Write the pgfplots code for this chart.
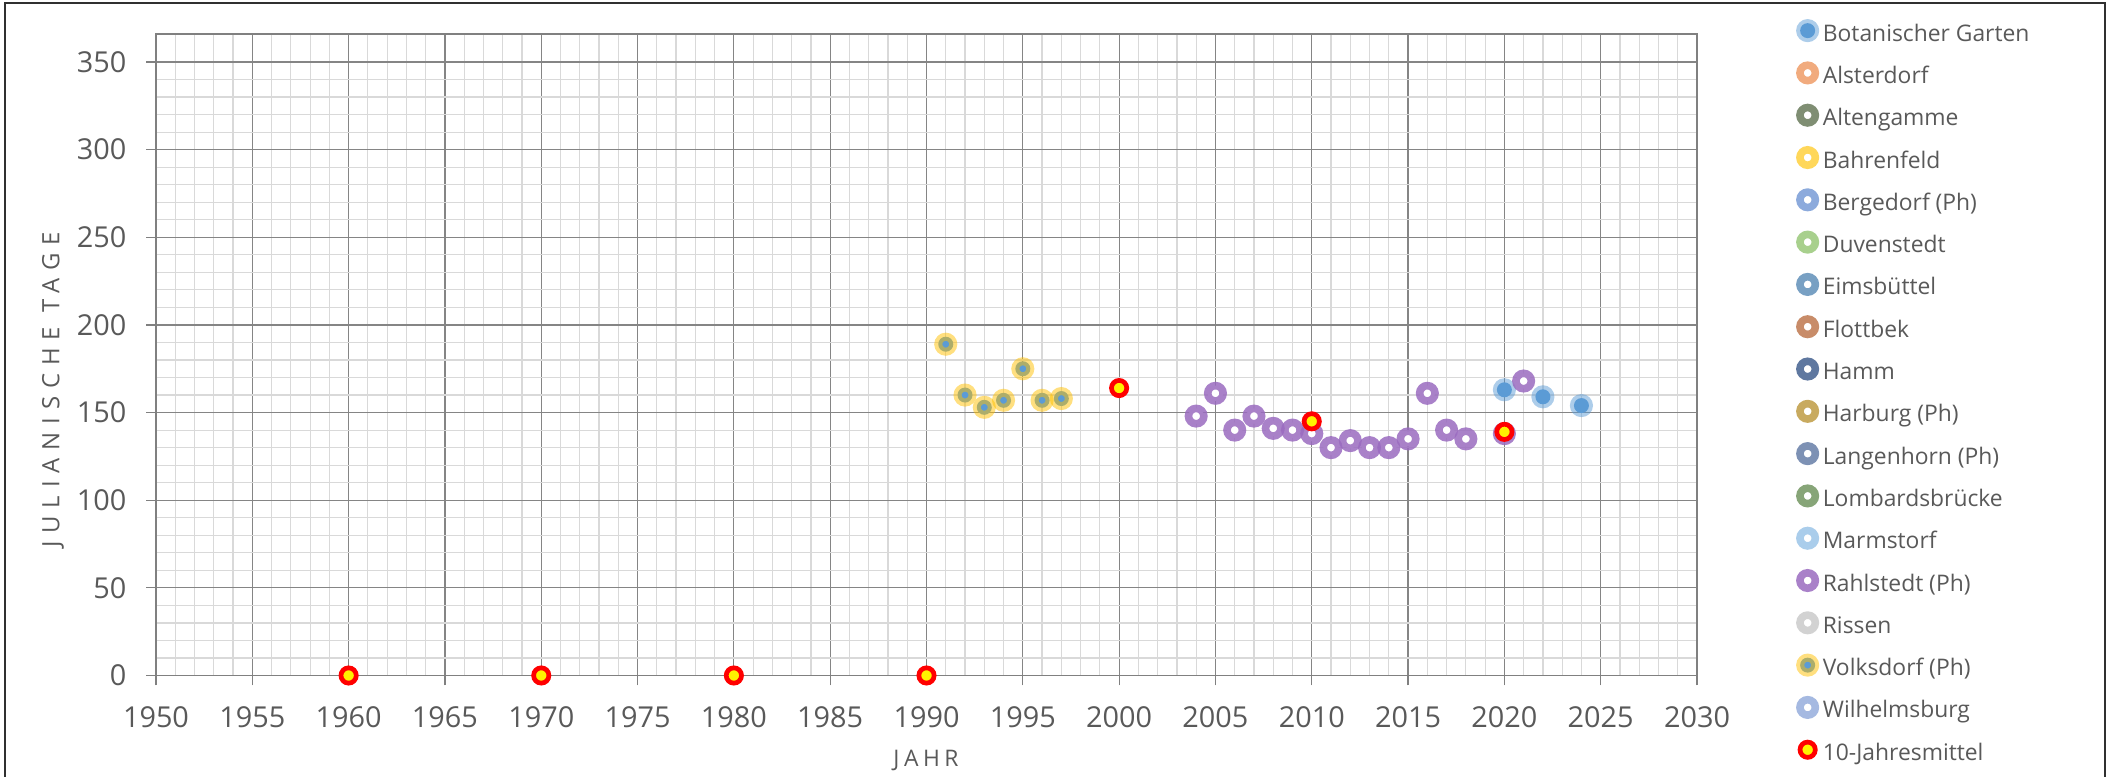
\documentclass[border=0pt]{standalone}
\usepackage{fontspec}
\setmainfont{Open Sans}
\usepackage{pgfplots}
\pgfplotsset{compat=1.18}
\definecolor{txt}{HTML}{595959}
\definecolor{majgrid}{HTML}{858585}
\definecolor{mingrid}{HTML}{D9D9D9}
\definecolor{axisgray}{HTML}{808080}
\definecolor{frame}{HTML}{303030}
\definecolor{cBG}{HTML}{5B9BD5}
\definecolor{cAls}{HTML}{F1AB7E}
\definecolor{cAlt}{HTML}{7F8E73}
\definecolor{cBah}{HTML}{FFD75A}
\definecolor{cBer}{HTML}{8CAADC}
\definecolor{cDuv}{HTML}{A8D08D}
\definecolor{cEim}{HTML}{78A0C3}
\definecolor{cFlo}{HTML}{C88C69}
\definecolor{cHam}{HTML}{5F78A0}
\definecolor{cHar}{HTML}{C8AA5F}
\definecolor{cLan}{HTML}{7D91B4}
\definecolor{cLom}{HTML}{87A578}
\definecolor{cMar}{HTML}{AACDEB}
\definecolor{cRah}{HTML}{9A6BBF}
\definecolor{cRis}{HTML}{D2D2D2}
\definecolor{cVolk}{HTML}{FFC000}
\definecolor{cWil}{HTML}{A5B9E1}
\pgfplotsset{
  ring/.style={only marks, mark=*, mark size=0.77mm,
    mark options={solid, fill=white, draw=#1, line width=0.76mm}},
}
\begin{document}
\begin{tikzpicture}
\begin{axis}[
  at={(15.6mm,10.15mm)}, anchor=south west,
  scale only axis, width=154.1mm, height=64.15mm,
  xmin=1950, xmax=2030, ymin=0, ymax=366,
  xtick={1950,1955,...,2030}, ytick={0,50,...,350},
  minor x tick num=4, minor y tick num=4,
  grid=both,
  major grid style={draw=majgrid, line width=0.12mm},
  minor grid style={draw=mingrid, line width=0.12mm},
  axis line style={draw=axisgray, line width=0.15mm},
  x axis line style={line width=0.2mm},
  tick style={draw=axisgray, line width=0.12mm},
  tick align=outside, major tick length=1mm, minor tick length=0pt,
  xtick pos=bottom, ytick pos=left,
  ticklabel style={font=\fontsize{8.2}{9}\selectfont, text=txt},
  yticklabel style={anchor=east, inner sep=0pt, xshift=-1.9mm},
  xticklabel style={anchor=north, inner sep=0pt, yshift=-2.05mm},
  /pgf/number format/assume math mode=true,
  /pgf/number format/1000 sep={},
  clip=false,
  legend style={at={(1.0668,1.0343)}, anchor=north west, draw=none, fill=none,
    inner sep=0pt, outer sep=0pt, column sep=0.75mm, row sep=0pt,
    font=\fontsize{6.5}{7}\selectfont, text=txt,
    nodes={inner sep=0pt, text height=2.915mm, text depth=1.315mm}},
  legend cell align=left,
  legend image code/.code={\draw[mark repeat=2,mark phase=2,#1] plot coordinates {(0mm,0.25mm) (1.15mm,0.25mm) (2.3mm,0.25mm)};},
]
% Botanischer Garten
\addplot[only marks, mark=*, mark size=0.75mm,
  mark options={fill=cBG, draw=cBG, draw opacity=0.5, line width=0.8mm}]
  coordinates {(2020,163) (2022,159) (2024,154)};
\addlegendentry{Botanischer Garten}
\addlegendimage{ring=cAls}\addlegendentry{Alsterdorf}
\addlegendimage{ring=cAlt}\addlegendentry{Altengamme}
\addlegendimage{ring=cBah}\addlegendentry{Bahrenfeld}
\addlegendimage{ring=cBer}\addlegendentry{Bergedorf (Ph)}
\addlegendimage{ring=cDuv}\addlegendentry{Duvenstedt}
\addlegendimage{ring=cEim}\addlegendentry{Eimsbüttel}
\addlegendimage{ring=cFlo}\addlegendentry{Flottbek}
\addlegendimage{ring=cHam}\addlegendentry{Hamm}
\addlegendimage{ring=cHar}\addlegendentry{Harburg (Ph)}
\addlegendimage{ring=cLan}\addlegendentry{Langenhorn (Ph)}
\addlegendimage{ring=cLom}\addlegendentry{Lombardsbrücke}
\addlegendimage{ring=cMar}\addlegendentry{Marmstorf}
% Rahlstedt
\addplot[only marks, mark=*, mark size=0.77mm,
  mark options={solid, fill=white, draw=cRah, draw opacity=0.85, line width=0.76mm}]
  coordinates {(2004,148) (2005,161) (2006,140) (2007,148) (2008,141) (2009,140)
   (2010,138) (2011,130) (2012,134) (2013,130) (2014,130) (2015,135) (2016,161)
   (2017,140) (2018,135) (2020,138) (2021,168)};
\addlegendentry{Rahlstedt (Ph)}
\addlegendimage{ring=cRis}\addlegendentry{Rissen}
% Volksdorf
\addplot[only marks, mark=*, mark size=0.75mm,
  mark options={fill=cBG, draw=cVolk, draw opacity=0.5, line width=0.8mm}]
  coordinates {(1991,189) (1992,160) (1993,153) (1994,157) (1995,175) (1996,157) (1997,158)};
\addlegendentry{Volksdorf (Ph)}
\addlegendimage{ring=cWil}\addlegendentry{Wilhelmsburg}
% 10-Jahresmittel
\addplot[only marks, mark=*, mark size=0.765mm,
  mark options={fill=yellow, draw=red, line width=0.47mm}]
  coordinates {(1960,0) (1970,0) (1980,0) (1990,0) (2000,164) (2010,145) (2020,139)};
\addlegendentry{10-Jahresmittel}
\end{axis}
\node[font=\fontsize{6.5}{7}\selectfont\addfontfeature{LetterSpace=20}, text=txt] at (92.6mm,1.7mm) {JAHR};
\node[rotate=90, font=\fontsize{6.8}{7}\selectfont\addfontfeature{LetterSpace=33}, text=txt] at (5.3mm,38.7mm) {JULIANISCHE TAGE};
\draw[line width=0.2mm, draw=frame] (0.5mm,-1mm) -- (0.5mm,77.4mm) -- (210.5mm,77.4mm) -- (210.5mm,-1mm);
\pgfresetboundingbox
\path[use as bounding box] (0,0) rectangle (211mm,77.7mm);
\end{tikzpicture}
\end{document}
